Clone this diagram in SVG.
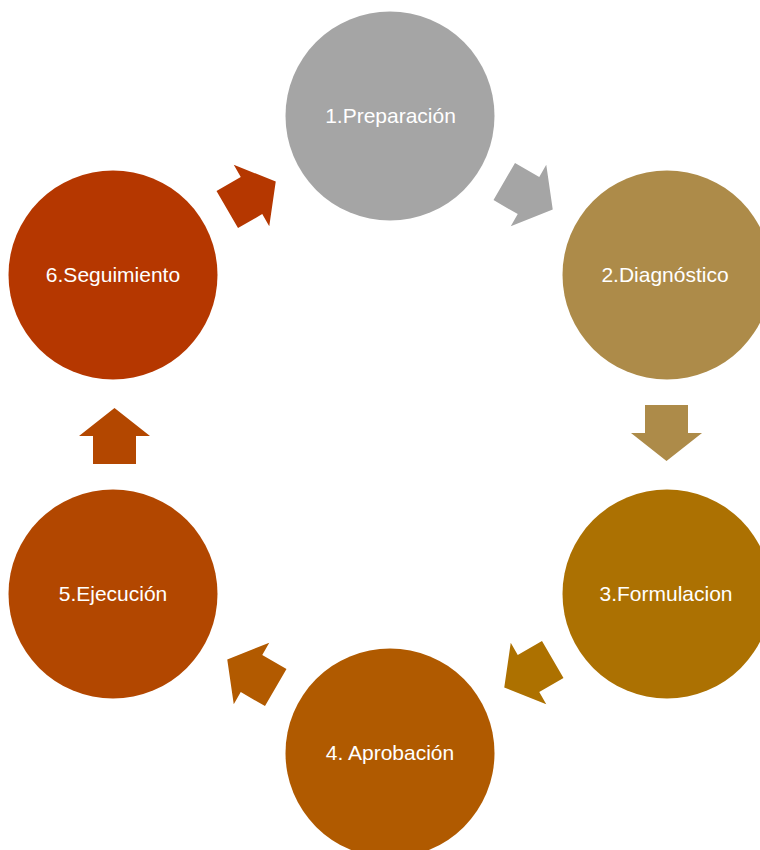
<svg xmlns="http://www.w3.org/2000/svg" width="760" height="850" viewBox="0 0 760 850">
<style>
.lbl{font-family:"Liberation Sans",Arial,sans-serif;font-size:21px;fill:#ffffff;text-anchor:middle}
</style>
<defs>
<polygon id="arr" points="-28,-21.5 0,-21.5 0,-35.5 28,0 0,35.5 0,21.5 -28,21.5"/>
</defs>
<rect width="760" height="850" fill="#ffffff"/>
<g id="connectors">
<use href="#arr" fill="#A5A5A5" transform="translate(528.5,195.5) rotate(30)"/>
<use href="#arr" fill="#AD8B49" transform="translate(666.5,433) rotate(90)"/>
<use href="#arr" fill="#AD7100" transform="translate(528.5,673.5) rotate(150)"/>
<use href="#arr" fill="#B25A00" transform="translate(251.5,673.5) rotate(210)"/>
<use href="#arr" fill="#B34700" transform="translate(114.5,436) rotate(-90)"/>
<use href="#arr" fill="#B53700" transform="translate(251.5,195.5) rotate(-30)"/>
</g>
<g id="n1"><circle cx="390" cy="116" r="104.5" fill="#A5A5A5"/><text class="lbl" x="390.5" y="122.5">1.Preparación</text></g>
<g id="n2"><circle cx="667" cy="275" r="104.5" fill="#AD8B49"/><text class="lbl" x="665" y="281.5">2.Diagnóstico</text></g>
<g id="n3"><circle cx="667" cy="594" r="104.5" fill="#AC7102"/><text class="lbl" x="666" y="600.5">3.Formulacion</text></g>
<g id="n4"><circle cx="390" cy="753" r="104.5" fill="#B05A00"/><text class="lbl" x="390" y="759.5">4. Aprobación</text></g>
<g id="n5"><circle cx="113" cy="594" r="104.5" fill="#B24700"/><text class="lbl" x="113" y="600.5">5.Ejecución</text></g>
<g id="n6"><circle cx="113" cy="275" r="104.5" fill="#B53700"/><text class="lbl" x="113" y="281.5">6.Seguimiento</text></g>
</svg>
